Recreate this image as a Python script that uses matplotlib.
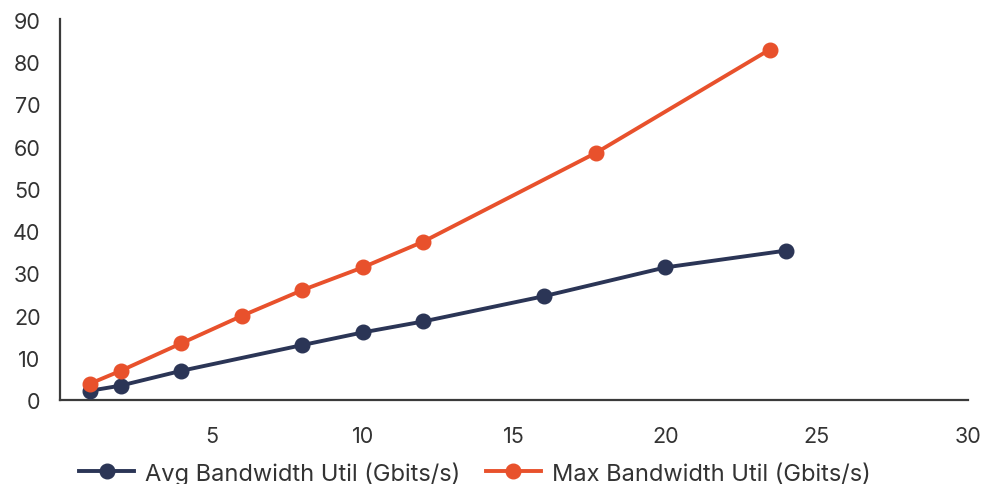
import matplotlib
matplotlib.use("Agg")
import matplotlib.pyplot as plt

plt.rcParams['font.family'] = ['Inter', 'DejaVu Sans']

avg_x = [1, 2, 4, 8, 10, 12, 16, 20, 24]
avg_y = [2.2, 3.4, 6.9, 13.0, 16.0, 18.6, 24.6, 31.4, 35.4]
max_x = [1, 2, 4, 6, 8, 10, 12, 17.7, 23.45]
max_y = [3.9, 6.9, 13.4, 19.9, 26.0, 31.4, 37.5, 58.5, 83.0]
series_names = ["Avg Bandwidth Util (Gbits/s)", "Max Bandwidth Util (Gbits/s)"]
x_ticks = [5, 10, 15, 20, 25, 30]
y_ticks = [0, 10, 20, 30, 40, 50, 60, 70, 80, 90]

navy = "#2B3556"
orange = "#E8512C"
text_c = "#333333"

fig = plt.figure(figsize=(9.84, 4.85), dpi=100)
ax = fig.add_axes([60/984, 1-401/485, 908/984, 380/485])

ax.plot(avg_x, avg_y, color=navy, lw=2.8, marker='o', ms=10.5, label=series_names[0], zorder=3)
ax.plot(max_x, max_y, color=orange, lw=2.8, marker='o', ms=10.5, label=series_names[1], zorder=3)

ax.set_xlim(0, 30)
ax.set_ylim(0, 90)
ax.set_xticks(x_ticks)
ax.set_yticks(y_ticks)
ax.tick_params(axis='both', length=0, labelsize=15.5, colors=text_c)
ax.tick_params(axis='x', pad=19)
ax.tick_params(axis='y', pad=14)
for s in ['top', 'right']:
    ax.spines[s].set_visible(False)
for s in ['left', 'bottom']:
    ax.spines[s].set_color('#3a3a3a')
    ax.spines[s].set_linewidth(1.6)
ax.spines['left'].set_bounds(0, 90.3)

leg = fig.legend(loc='center', bbox_to_anchor=(475/984, 1-474/485), ncol=2, frameon=False,
                 fontsize=17, handlelength=2.33, columnspacing=1.06, handletextpad=0.47)
for t in leg.get_texts():
    t.set_color(text_c)

fig.savefig("out.png", dpi=100)
